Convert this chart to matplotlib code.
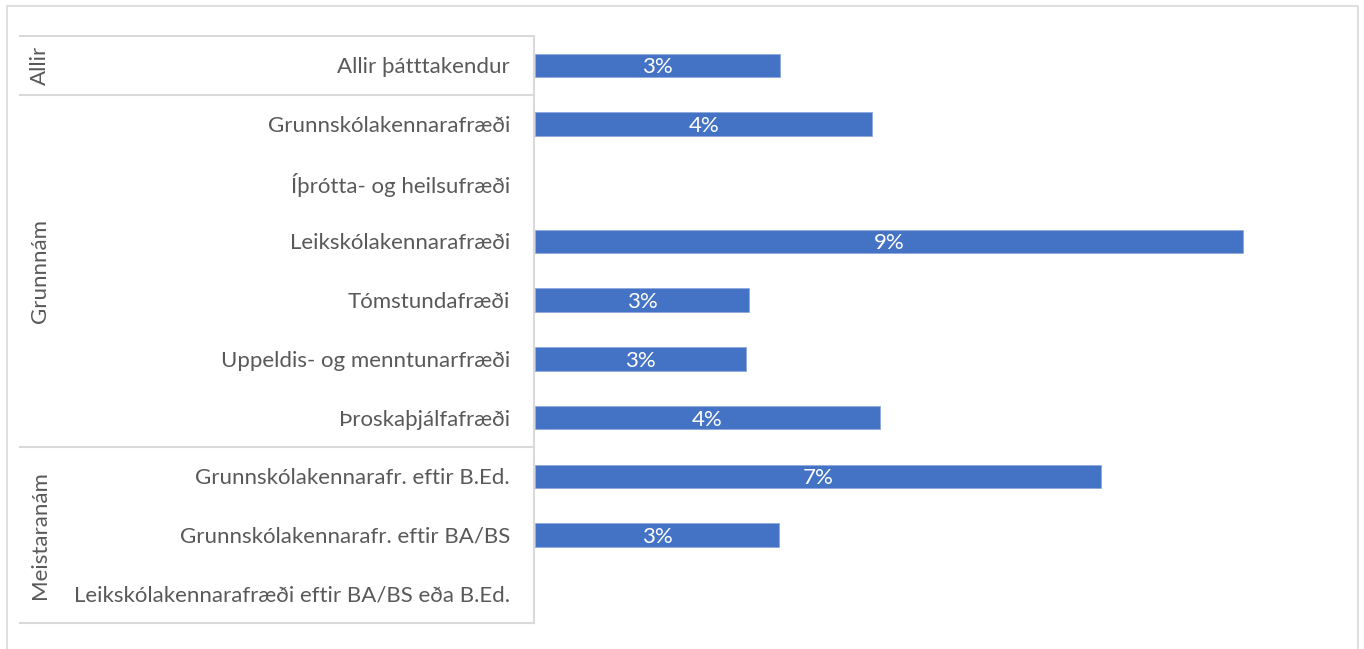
import matplotlib
matplotlib.use("Agg")
import matplotlib.pyplot as plt
from matplotlib.lines import Line2D
from matplotlib.patches import Rectangle
import matplotlib.transforms as mtransforms

categories = [
    "Allir þátttakendur",
    "Grunnskólakennarafræði",
    "Íþrótta- og heilsufræði",
    "Leikskólakennarafræði",
    "Tómstundafræði",
    "Uppeldis- og menntunarfræði",
    "Þroskaþjálfafræði",
    "Grunnskólakennarafr. eftir B.Ed.",
    "Grunnskólakennarafr. eftir BA/BS",
    "Leikskólakennarafræði eftir BA/BS eða B.Ed.",
]
values = [3.11, 4.29, None, 9.0, 2.72, 2.68, 4.38, 7.2, 3.1, None]
groups = ["Allir", "Grunnnám", "Meistaranám"]
group_sizes = [1, 6, 3]

W, H = 1364, 649
FS = 16
plt.rcParams['font.family'] = ['Lato', 'DejaVu Sans']
fig = plt.figure(figsize=(W / 100, H / 100), dpi=100)

def fx(px):
    return px / W

def fy(py):
    return 1 - py / H

# outer frame
fig.patches.append(Rectangle((fx(7), fy(660)), fx(1358) - fx(7), fy(6) - fy(660),
                             transform=fig.transFigure, fill=False,
                             edgecolor="#D9D9D9", linewidth=1.2))

ax = fig.add_axes([fx(535), fy(623), fx(1350) - fx(535), fy(36) - fy(623)])
n = len(categories)
ypos = list(range(n))
bar_y = [y for y, v in zip(ypos, values) if v is not None]
bar_v = [v for v in values if v is not None]
ax.barh(bar_y, bar_v, height=0.4, color="#4472C4", edgecolor="#8FAADC", linewidth=0.6)
ax.set_ylim(n - 0.5, -0.5)
ax.set_xlim(0, 10.36)
for s in ax.spines.values():
    s.set_visible(False)
ax.set_xticks([])
ax.set_yticks(ypos)
ax.set_yticklabels(categories, fontsize=FS, color="#595959")
ax.tick_params(axis="y", length=0, pad=18)

for y, v in zip(bar_y, bar_v):
    ax.text(v / 2, y, f"{round(v):d}%", ha="center", va="center_baseline",
            color="white", fontsize=FS)

tr = mtransforms.blended_transform_factory(fig.transFigure, ax.transData)
line_kw = dict(color="#D9D9D9", linewidth=1.5, transform=tr, clip_on=False)
bounds = [-0.5]
for g in group_sizes:
    bounds.append(bounds[-1] + g)
for b in bounds:
    fig.add_artist(Line2D([fx(20), fx(534)], [b, b], **line_kw))
fig.add_artist(Line2D([fx(534), fx(534)], [-0.5, n - 0.5], **line_kw))

for gname, lo, hi in zip(groups, bounds[:-1], bounds[1:]):
    fig.text(fx(40), (lo + hi) / 2, gname, rotation=90, ha="center", va="center",
             fontsize=FS, color="#595959", transform=tr)

fig.savefig("out.png", dpi=100, facecolor="white")
